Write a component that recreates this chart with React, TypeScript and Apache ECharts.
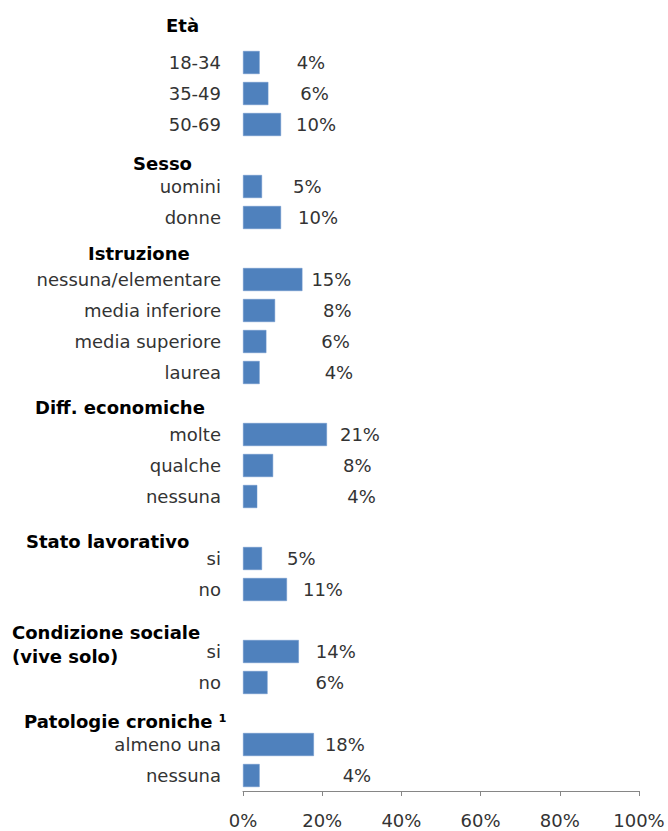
import React, { useEffect, useRef } from "react";
import * as echarts from "echarts";

// 25 category slots; empty names are the slots used by the group headings
const categories = [
  "", "18-34", "35-49", "50-69",
  "", "uomini", "donne",
  "", "nessuna/elementare", "media inferiore", "media superiore", "laurea",
  "", "molte", "qualche", "nessuna",
  "", "si", "no",
  "", "si", "no",
  "", "almeno una", "nessuna",
];

const values: (number | null)[] = [
  null, 4.2, 6.4, 9.6,
  null, 4.8, 9.6,
  null, 15.0, 8.1, 5.9, 4.2,
  null, 21.2, 7.6, 3.6,
  null, 4.8, 11.1,
  null, 14.1, 6.2,
  null, 17.9, 4.2,
];

const xTicks = [0, 20, 40, 60, 80, 100];

const headers = [
  "Età",
  "Sesso",
  "Istruzione",
  "Diff. economiche",
  "Stato lavorativo",
  "Condizione sociale",
  "(vive solo)",
  "Patologie croniche ¹",
];

// layout (style) arrays
const headerX = [166, 133, 88, 35, 26, 12, 12, 24];
const headerY = [25, 163, 253, 407, 541, 632, 656, 721];
const labelGaps = [
  0, 37, 32, 15,
  0, 31, 17,
  0, 9, 48, 55, 65,
  0, 13, 70, 90,
  0, 25, 16,
  0, 17, 48,
  0, 11, 83,
];

const FONT = "DejaVu Sans";

export default function App() {
  const ref = useRef<HTMLDivElement>(null);

  useEffect(() => {
    if (!ref.current) return;
    const chart = echarts.init(ref.current, undefined, { renderer: "svg" });
    const barData = values.map((v, i) =>
      v === null
        ? { value: null }
        : { value: v, label: { distance: labelGaps[i] } }
    );
    chart.setOption({
      animation: false,
      backgroundColor: "#ffffff",
      grid: {
        left: 243,
        right: 29,
        top: 16,
        bottom: 40,
        containLabel: false,
        outerBoundsMode: "none",
      },
      xAxis: {
        type: "value",
        min: xTicks[0],
        max: xTicks[xTicks.length - 1],
        interval: 20,
        splitLine: { show: false },
        axisLine: { show: true, lineStyle: { color: "#868686", width: 1 } },
        axisTick: { show: true, length: 5, lineStyle: { color: "#868686" } },
        axisLabel: {
          formatter: (v: number) => v + "%",
          fontFamily: FONT,
          fontSize: 18,
          color: "#333333",
          margin: 20,
        },
      },
      yAxis: {
        type: "category",
        inverse: true,
        data: categories,
        axisLine: { show: false },
        axisTick: { show: false },
        axisLabel: {
          fontFamily: FONT,
          fontSize: 18,
          color: "#333333",
          margin: 22,
          interval: 0,
        },
      },
      series: [
        {
          type: "bar",
          data: barData,
          barWidth: 23,
          itemStyle: { color: "#4F81BD", borderColor: "#6A95CC", borderWidth: 0.5 },
          label: {
            show: true,
            position: "right",
            fontFamily: FONT,
            fontSize: 18,
            color: "#333333",
            formatter: (p: any) =>
              p.value === null || p.value === undefined ? "" : Math.round(p.value) + "%",
          },
        },
      ],
      graphic: headers.map((h, i) => ({
        type: "text",
        x: headerX[i],
        y: headerY[i],
        style: {
          text: h,
          fontFamily: FONT,
          fontSize: 18,
          fontWeight: "bold",
          fill: "#000000",
          textAlign: "left",
          verticalAlign: "middle",
          textVerticalAlign: "middle",
        },
      })),
    });
    return () => chart.dispose();
  }, []);

  return (
    <div
      ref={ref}
      style={{ position: "fixed", left: 0, top: 0, width: 668, height: 831 }}
    />
  );
}
